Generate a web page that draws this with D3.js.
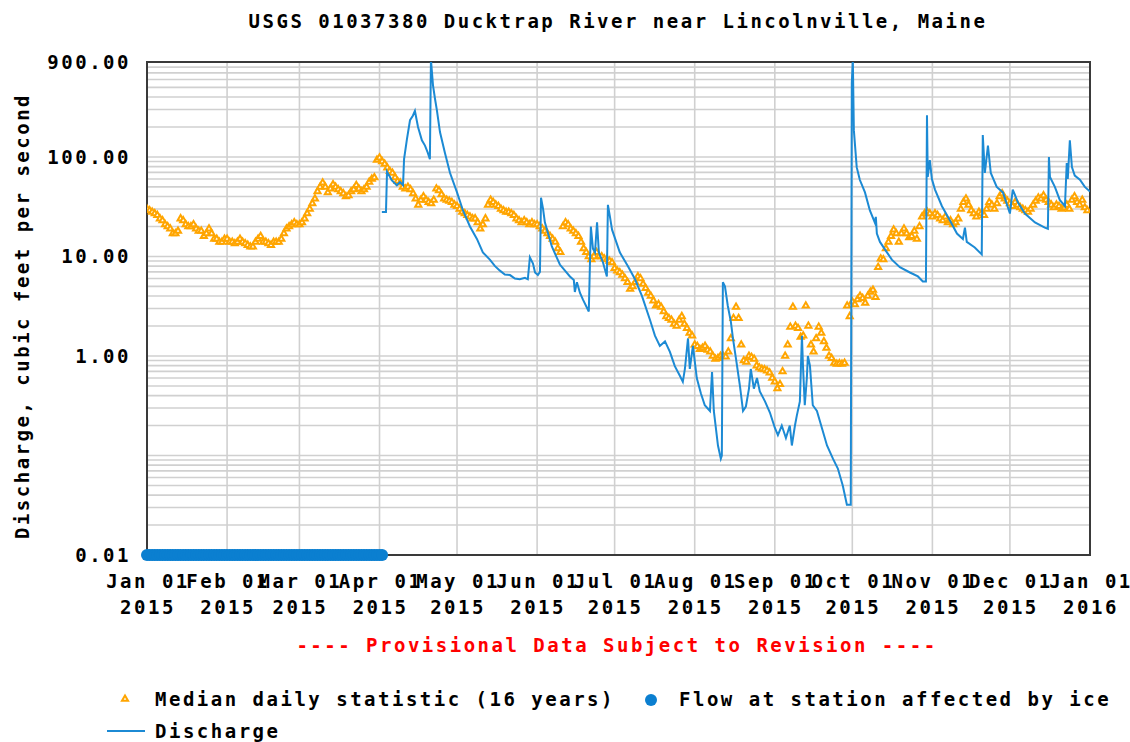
<!DOCTYPE html>
<meta charset="utf-8">
<html>
<style>
	body { margin: 0; background: #fff; }
	text { font-family: "DejaVu Sans Mono", "Liberation Mono", monospace; font-weight: bold; font-size: 19px; letter-spacing: 2.5px; }
	.grid line { stroke: #d0d0d0; stroke-width: 1.6px; }
</style>
<body>
	<script src="https://cdnjs.cloudflare.com/ajax/libs/d3/7.8.5/d3.min.js"></script>
	<script type="text/javascript">
		var title = "USGS 01037380 Ducktrap River near Lincolnville, Maine";
		var yLabel = "Discharge, cubic feet per second";
		var yTickValues = [900, 100, 10, 1, 0.01];
		var yTickLabels = ["900.00", "100.00", "10.00", "1.00", "0.01"];
		var monthTicks = ["2015-01-01", "2015-02-01", "2015-03-01", "2015-04-01", "2015-05-01", "2015-06-01",
			"2015-07-01", "2015-08-01", "2015-09-01", "2015-10-01", "2015-11-01", "2015-12-01", "2016-01-01"];

		// median daily statistic, one value per day from Jan 01 2015
		var medianValues = [
			30, 29, 28, 27, 26, 24, 23, 21, 20, 19, 17, 17, 18, 24, 23, 21, 20, 20, 21, 19, 18, 18, 16, 17, 19, 17, 15, 15, 14, 14, 15,
			15, 14, 14, 13.5, 14, 15, 14, 13.5, 13, 12.5, 12.5, 14, 15, 16, 14, 14, 13.5, 13, 14, 14, 14, 15, 17, 19, 20, 21, 22, 21,
			21, 22, 24, 27, 30, 34, 38, 45, 50, 55, 50, 44, 48, 53, 50, 47, 45, 43, 40, 41, 45, 47, 52, 48, 45, 47, 50, 56, 60, 62, 93,
			98, 90, 85, 78, 72, 69, 62, 57, 55, 50, 48, 50, 47, 43, 38, 33, 37, 40, 37, 35, 34, 37, 48, 46, 42, 38, 37, 36, 35, 33,
			32, 30, 28, 27, 26, 25, 24, 24, 22, 19, 21, 24, 33, 37, 35, 33, 32, 30, 29, 28, 28, 27, 26, 24, 23, 22, 23, 22, 21, 22, 21,
			21, 20, 19, 18, 17, 16, 15, 14, 12, 11, 20, 22, 21, 19, 18, 17, 16, 14, 12, 11, 10, 9.3, 10, 11, 10, 10, 9.5, 9.3, 9.0, 8.7,
			7.6, 7.2, 6.9, 6.5, 6.0, 5.5, 4.7, 5.0, 5.5, 6.3, 6.0, 5.3, 4.8, 4.3, 4.0, 3.6, 3.2, 3.3, 3.1, 2.8, 2.5, 2.4, 2.3, 2.1, 2.0, 2.3, 2.5, 2.1, 1.9, 1.7, 1.6,
			1.3, 1.25, 1.17, 1.2, 1.26, 1.15, 1.1, 1.0, 0.93, 0.95, 1.0, 1.0, 0.98, 1.1, 1.5, 2.4, 3.1, 2.4, 1.3, 0.9, 0.87, 1.0, 0.97, 0.93, 0.8, 0.76, 0.74, 0.73, 0.71, 0.68, 0.6,
			0.55, 0.47, 0.52, 0.7, 1.0, 1.3, 1.95, 3.1, 2.0, 1.9, 1.55, 1.6, 3.2, 2.0, 1.3, 1.1, 1.5, 1.95, 1.7, 1.4, 1.2, 1.0, 0.95, 0.85, 0.83, 0.84, 0.83, 0.85, 3.2, 2.5,
			3.5, 3.3, 3.7, 4.0, 3.8, 3.4, 4.0, 4.4, 4.6, 3.9, 7.8, 9.5, 9.3, 12, 14, 16, 18.6, 17, 14, 17, 19, 17, 15.5, 16, 18, 15, 20, 25, 27, 28, 27,
			25, 27, 26, 24, 23, 25, 22, 23, 21, 22, 24, 30, 35, 38, 33, 29, 27, 25, 28, 27, 26, 30, 35, 33, 30, 34, 40, 43, 38, 36,
			34, 32, 35, 33, 31, 30, 29, 28, 30, 33, 36, 39, 38, 41, 37, 35, 33, 31, 33, 32, 30, 31, 33, 30, 37, 40, 35, 33, 37, 31, 29
		];

		// discharge, days after Jan 01 2015 and cubic feet per second
		var qDay = [90.9, 92.5, 92.9, 94.8, 96.7, 97.9, 99.1, 99.5, 100.6, 101.8, 102.9, 103.7, 104.9, 106.4, 107.6, 108.7, 109.5, 109.9,
			110.7, 111.5, 112.2, 113.4, 115.3, 117.3, 120, 122.3, 125, 127.7, 130, 132.7, 134.7, 136.6, 138.5, 140.5, 142.4, 144.3, 146.3, 147.4,
			148.2, 149.4, 150.2, 151.3, 152.1, 152.5, 153.3, 154, 156.7, 159.8, 163.7, 165.2, 165.6, 166.4, 167.6, 168.7, 171, 171.8, 172.6,
			173.4, 174.2, 174.9, 176.5, 178, 178.4, 179.2, 180, 183, 186.1, 188.9, 191.6, 194.7, 196.6, 198.5, 200.5, 202.4, 204.3, 206.3,
			207.4, 208.2, 209.4, 210.1, 211.3, 212.8, 214.4, 215.9, 217.9, 218.7, 219.4, 221, 222.1, 222.5, 222.9, 223.7, 224.8, 226, 226.8,
			228, 229.5, 230.7, 231.8, 233, 233.7, 234.9, 236.1, 237.2, 239.2, 241.1, 243, 244.2, 245.7, 247.3, 248.8, 249.6, 250.8, 251.5,
			252.7, 253.5, 253.9, 254.6, 255.4, 255.8, 256.6, 257.7, 259.3, 261.2, 263.2, 265.5, 267.4, 269.3, 270.9, 272.4, 272.8, 273.2,
			273.6, 274.7, 275.9, 277.9, 279.8, 281.7, 282.1, 282.5, 283.7, 286.4, 288.3, 291.4, 295.3, 298.4, 300.3, 301.5, 301.9, 302.2,
			303, 303.8, 305, 307.7, 310.8, 313.5, 315.8, 316.6, 317.3, 320.4, 323.1, 323.5, 324.3, 325.5, 326.6, 328.9, 331.3, 334, 335.1,
			337.1, 339.8, 343.7, 347.5, 348.7, 349.1, 349.5, 351.4, 353.3, 355.3, 356, 356.4, 357.2, 358, 359.1, 361.1, 363, 365];
		var qValue = [28, 28, 71, 58, 52, 56, 52, 95, 150, 234, 260, 290, 200, 147, 130, 110, 95, 950,
			525, 380, 295, 178, 110, 69, 44, 29, 20, 15, 11, 9.3, 8, 7.2, 6.6, 6.5, 6.0, 5.9, 6.1, 5.9,
			9.8, 8.5, 6.9, 6.5, 7.0, 39, 30, 22, 12.6, 8.3, 6.3, 5.8, 4.4, 5.5, 4.3, 3.7, 2.8, 20, 12,
			11, 22, 11, 8.7, 6.3, 33, 25, 18.6, 11, 8, 5.9, 4, 2.3, 1.6, 1.26, 1.4, 1.1, 0.79, 0.63,
			0.55, 0.74, 1.5, 0.74, 1.26, 0.6, 0.42, 0.32, 0.28, 0.69, 0.28, 0.126, 0.093, 0.1, 5.5, 5.0, 3.2, 2.2, 1.5,
			0.93, 0.5, 0.28, 0.31, 0.47, 0.74, 0.47, 0.6, 0.44, 0.35, 0.27, 0.19, 0.16, 0.2, 0.15, 0.2, 0.126, 0.2, 0.25,
			0.35, 1.6, 0.8, 0.32, 0.6, 1.0, 0.8, 0.32, 0.28, 0.19, 0.126, 0.093, 0.074, 0.05, 0.032, 0.032, 550, 950,
			186, 79, 59, 44, 29, 22, 25, 17, 14, 11, 9.3, 7.8, 6.9, 6.3, 5.6, 5.6, 262, 63,
			93, 60, 47, 32, 23, 17, 15, 19.5, 14, 12.3, 10.5, 166, 69, 130, 69, 50, 44, 27, 47,
			35, 27, 22, 19.5, 19, 100, 63, 50, 37, 32, 87, 60, 147, 79, 65, 59, 50, 45];

		// flow affected by ice, plotted at the bottom of the axis
		var iceStart = "2015-01-01", iceEnd = "2015-04-03", iceValue = 0.01;

		var width = 1130, height = 742;
		var margin = { left: 147, right: 40, top: 62, bottom: 187 };

		var parse = d3.utcParse("%Y-%m-%d");
		var jan1 = parse("2015-01-01");
		var x = d3.scaleUtc()
			.domain([jan1, parse("2016-01-01")])
			.range([margin.left, width - margin.right]);
		var y = d3.scaleLog()
			.domain([0.01, 900])
			.range([height - margin.bottom, margin.top]);

		var svg = d3.select("body").append("svg")
			.attr("width", width)
			.attr("height", height);

		svg.append("defs").append("clipPath").attr("id", "plotclip")
			.append("rect")
			.attr("x", x.range()[0]).attr("y", y.range()[1])
			.attr("width", x.range()[1] - x.range()[0])
			.attr("height", y.range()[0] - y.range()[1]);

		// horizontal minor grid: 1..9 per decade
		var hGrid = [];
		[0.01, 0.1, 1, 10, 100].forEach(function (dec) {
			for (var k = 1; k <= 9; k++) {
				var v = +(dec * k).toPrecision(3);
				if (v > 0.01 && v < 900) hGrid.push(v);
			}
		});
		svg.append("g").attr("class", "grid")
			.selectAll("line").data(hGrid).enter().append("line")
			.attr("x1", x.range()[0]).attr("x2", x.range()[1])
			.attr("y1", function (d) { return y(d); })
			.attr("y2", function (d) { return y(d); });

		// vertical grid at months
		svg.append("g").attr("class", "grid")
			.selectAll("line").data(monthTicks.slice(1, -1)).enter().append("line")
			.attr("x1", function (d) { return x(parse(d)); })
			.attr("x2", function (d) { return x(parse(d)); })
			.attr("y1", y.range()[1]).attr("y2", y.range()[0]);

		// frame
		svg.append("rect")
			.attr("x", x.range()[0]).attr("y", y.range()[1])
			.attr("width", x.range()[1] - x.range()[0])
			.attr("height", y.range()[0] - y.range()[1])
			.attr("fill", "none")
			.attr("stroke", "#3a3a3a")
			.attr("stroke-width", 2);

		function dayDate(d) {
			return new Date(jan1.getTime() + d * 86400000);
		}

		// median triangles
		var tri = d3.symbol().type(d3.symbolTriangle).size(16);
		svg.append("g").attr("clip-path", "url(#plotclip)")
			.selectAll("path").data(medianValues).enter().append("path")
			.attr("d", tri)
			.attr("transform", function (d, i) { return "translate(" + x(dayDate(i)) + "," + y(d) + ")"; })
			.attr("fill", "#fff")
			.attr("stroke", "#ffa500")
			.attr("stroke-width", 2);

		// discharge line
		var qData = qDay.map(function (d, i) { return [dayDate(d), qValue[i]]; });
		svg.append("path")
			.datum(qData)
			.attr("clip-path", "url(#plotclip)")
			.attr("fill", "none")
			.attr("stroke", "#1c8ad4")
			.attr("stroke-width", 2)
			.attr("d", d3.line()
				.x(function (d) { return x(d[0]); })
				.y(function (d) { return y(d[1]); }));

		// ice-affected flow
		var iceDates = d3.utcDay.range(parse(iceStart), parse(iceEnd));
		svg.append("g")
			.selectAll("circle").data(iceDates).enter().append("circle")
			.attr("cx", function (d) { return x(d); })
			.attr("cy", y(iceValue))
			.attr("r", 6)
			.attr("fill", "#0b7fd0");

		// y tick labels
		svg.append("g").selectAll("text").data(yTickValues).enter().append("text")
			.attr("x", 131)
			.attr("y", function (d) { return y(d); })
			.attr("dy", "0.35em")
			.attr("text-anchor", "end")
			.text(function (d, i) { return yTickLabels[i]; });

		// x tick labels
		var xt = svg.append("g").selectAll("text").data(monthTicks).enter().append("text")
			.attr("text-anchor", "middle")
			.attr("x", function (d) { return x(parse(d)) + 1; });
		xt.append("tspan").attr("y", 588)
			.attr("x", function (d) { return x(parse(d)) + 1; })
			.text(function (d) { return d3.utcFormat("%b %d")(parse(d)); });
		xt.append("tspan").attr("y", 614)
			.attr("x", function (d) { return x(parse(d)) + 1; })
			.text(function (d) { return d3.utcFormat("%Y")(parse(d)); });

		// title and axis label
		svg.append("text")
			.attr("x", 618).attr("y", 28)
			.attr("text-anchor", "middle")
			.text(title);
		svg.append("text")
			.attr("transform", "translate(29," + 316 + ") rotate(-90)")
			.attr("text-anchor", "middle")
			.text(yLabel);

		svg.append("text")
			.attr("x", 617).attr("y", 652)
			.attr("text-anchor", "middle")
			.attr("fill", "#ff0000")
			.text("---- Provisional Data Subject to Revision ----");

		// legend
		var lg = svg.append("g");
		lg.append("path").attr("d", tri)
			.attr("transform", "translate(125,699)")
			.attr("fill", "#fff").attr("stroke", "#ffa500").attr("stroke-width", 2);
		lg.append("text").attr("x", 155).attr("y", 706).text("Median daily statistic (16 years)");
		lg.append("circle").attr("cx", 651).attr("cy", 700).attr("r", 6).attr("fill", "#0b7fd0");
		lg.append("text").attr("x", 679).attr("y", 706).text("Flow at station affected by ice");
		lg.append("line").attr("x1", 107).attr("x2", 145).attr("y1", 731).attr("y2", 731)
			.attr("stroke", "#1c8ad4").attr("stroke-width", 2);
		lg.append("text").attr("x", 155).attr("y", 738).text("Discharge");
	</script>
</body>
</html>
